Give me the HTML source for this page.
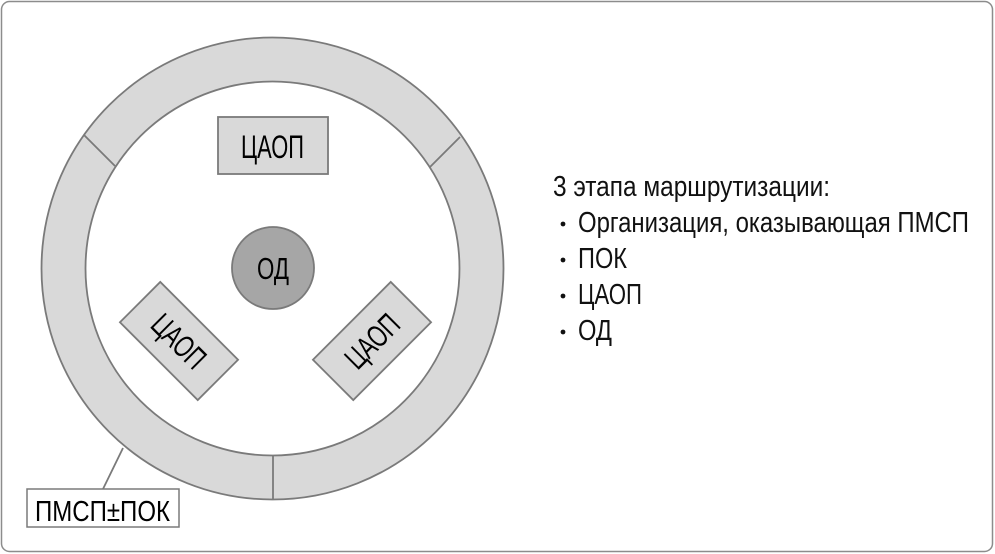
<!DOCTYPE html>
<html><head><meta charset="utf-8"><style>
html,body{margin:0;padding:0;background:#fff;}
svg{display:block;font-family:"Liberation Sans",sans-serif;}
</style></head><body>
<svg width="995" height="554" viewBox="0 0 995 554" xmlns="http://www.w3.org/2000/svg">
<rect x="1.5" y="1.5" width="991" height="550" rx="8" fill="#fff" stroke="#8c8c8c" stroke-width="1.5"/>
<circle cx="272.5" cy="268.5" r="231" fill="#d9d9d9" stroke="#7a7a7a" stroke-width="1.8"/>
<circle cx="272.5" cy="268.5" r="187" fill="#fff" stroke="#7a7a7a" stroke-width="1.8"/>
<line x1="273" y1="455" x2="273" y2="500" stroke="#7a7a7a" stroke-width="1.8"/>
<line x1="84" y1="135" x2="115" y2="166" stroke="#7a7a7a" stroke-width="1.8"/>
<line x1="460" y1="137" x2="430" y2="167" stroke="#7a7a7a" stroke-width="1.8"/>
<rect x="218" y="117" width="110" height="57" fill="#d9d9d9" stroke="#7a7a7a" stroke-width="1.8"/>
<text x="241" y="158" font-size="32" textLength="63" lengthAdjust="spacingAndGlyphs">ЦАОП</text>
<circle cx="273" cy="268" r="41" fill="#a6a6a6" stroke="#7a7a7a" stroke-width="1.8"/>
<text x="257" y="279" font-size="31" textLength="32" lengthAdjust="spacingAndGlyphs">ОД</text>
<g transform="translate(179,341) rotate(45)">
<rect x="-55" y="-28.5" width="110" height="57" fill="#d9d9d9" stroke="#7a7a7a" stroke-width="1.8"/>
<text x="-31.5" y="11" font-size="31" textLength="63" lengthAdjust="spacingAndGlyphs">ЦАОП</text>
</g>
<g transform="translate(372,341) rotate(-45)">
<rect x="-55" y="-28.5" width="110" height="57" fill="#d9d9d9" stroke="#7a7a7a" stroke-width="1.8"/>
<text x="-31.5" y="11" font-size="31" textLength="63" lengthAdjust="spacingAndGlyphs">ЦАОП</text>
</g>
<line x1="123" y1="448" x2="103" y2="489" stroke="#7a7a7a" stroke-width="1.8"/>
<rect x="27" y="489" width="152" height="38" fill="#fff" stroke="#7a7a7a" stroke-width="1.5"/>
<text x="35" y="521" font-size="29" textLength="135" lengthAdjust="spacingAndGlyphs">ПМСП±ПОК</text>
<g font-size="29" fill="#111">
<text x="553" y="196" textLength="277" lengthAdjust="spacingAndGlyphs">3 этапа маршрутизации:</text>
<circle cx="563" cy="224" r="2.4"/>
<text x="578" y="232" textLength="391" lengthAdjust="spacingAndGlyphs">Организация, оказывающая ПМСП</text>
<circle cx="563" cy="260" r="2.4"/>
<text x="578" y="268" textLength="49" lengthAdjust="spacingAndGlyphs">ПОК</text>
<circle cx="563" cy="296" r="2.4"/>
<text x="578" y="304" textLength="64" lengthAdjust="spacingAndGlyphs">ЦАОП</text>
<circle cx="563" cy="332" r="2.4"/>
<text x="578" y="340" textLength="34" lengthAdjust="spacingAndGlyphs">ОД</text>
</g>
</svg>
</body></html>
